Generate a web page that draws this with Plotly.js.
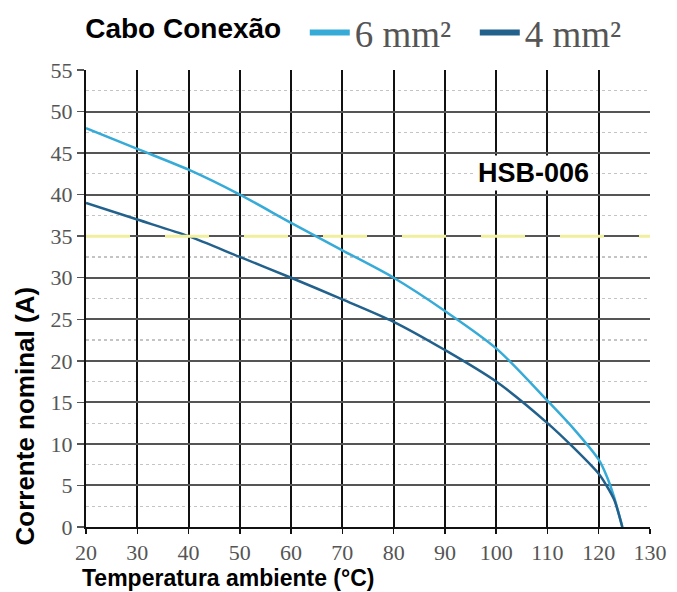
<!DOCTYPE html>
<html>
<head>
<meta charset="utf-8">
<script src="https://cdn.plot.ly/plotly-3.0.1.min.js"></script>
<style>html,body{margin:0;padding:0;background:#fff;}#chart{width:677px;height:592px;}</style>
</head>
<body>
<div id="chart"></div>
<script>
// Data
const temp6 = [20, 30, 40, 50, 60, 70, 80, 90, 100, 110, 115, 120, 121.5, 123, 124.6];
const amps6 = [48, 45.5, 43, 40, 36.6, 33.3, 30, 26, 21.5, 15.2, 11.9, 8.1, 6.2, 3.6, 0];
const temp4 = [20, 30, 40, 50, 60, 70, 80, 90, 100, 110, 115, 120, 121.5, 123, 124.6];
const amps4 = [39, 37, 35, 32.5, 30, 27.4, 24.7, 21.3, 17.5, 12.5, 9.6, 6.4, 5.0, 3.3, 0];
const seriesNames = ["6 mm²", "4 mm²"];
const seriesColors = ["#36abd8", "#22618c"];
const legendTitle = "Cabo Conexão";
const modelLabel = "HSB-006";
const threshold = 35;
const xTitle = "Temperatura ambiente (°C)";
const yTitle = "Corrente nominal (A)";

const curves = [[temp6, amps6], [temp4, amps4]];
const traces = [];
curves.forEach((c, i) => {
  traces.push({x: c[0], y: c[1], name: seriesNames[i], legendgroup: "g" + i, showlegend: false,
    mode: "lines", type: "scatter",
    line: {color: seriesColors[i], width: 2.5, shape: "spline", smoothing: 0.8}});
});
// legend entries (thicker swatches as in the reference)
curves.forEach((c, i) => {
  traces.push({x: [null], y: [null], name: seriesNames[i], legendgroup: "g" + i, showlegend: true,
    mode: "lines", type: "scatter", line: {color: seriesColors[i], width: 6}});
});

const serif = "Liberation Serif, Times New Roman, serif";
const sans = "Liberation Sans, Arial, sans-serif";

const layout = {
  width: 677, height: 592,
  margin: {l: 86, r: 27, t: 70, b: 65, autoexpand: false},
  paper_bgcolor: "#fff", plot_bgcolor: "#fff",
  showlegend: true,
  legend: {
    orientation: "h", x: -0.005, xanchor: "left", y: 1.081, yanchor: "middle",
    title: {text: "<b>" + legendTitle + "\u00a0\u00a0</b>", font: {family: sans, size: 28, color: "#000"}, side: "left"},
    font: {family: serif, size: 37, color: "#555"},
    itemwidth: 40, entrywidth: 115, entrywidthmode: "pixels",
    tracegroupgap: 0, bgcolor: "rgba(0,0,0,0)"
  },
  xaxis: {
    range: [20, 130], dtick: 10, tick0: 20,
    showgrid: true, gridcolor: "#111", gridwidth: 2,
    showline: true, linecolor: "#111", linewidth: 2,
    ticks: "outside", ticklen: 5, tickcolor: "#111", tickwidth: 1.5,
    tickfont: {family: serif, size: 22, color: "#555"},
    zeroline: false, fixedrange: true
  },
  yaxis: {
    range: [0, 55], dtick: 5, tick0: 0,
    showgrid: true, gridcolor: "#555", gridwidth: 2,
    showline: true, linecolor: "#111", linewidth: 2,
    ticks: "outside", ticklen: 7, tickcolor: "#555", tickwidth: 1.5,
    tickfont: {family: serif, size: 22, color: "#555"},
    zeroline: false, fixedrange: true,
    minor: {dtick: 2.5, showgrid: true, gridcolor: "#c4c4c4", griddash: "dot", gridwidth: 1.2}
  },
  shapes: [
    {type: "line", xref: "paper", x0: 0, x1: 1, yref: "y", y0: threshold, y1: threshold,
     line: {color: "#efef9e", width: 3, dash: "44px,35px"}, layer: "above"}
  ],
  annotations: [
    {text: "<b>" + modelLabel + "</b>", xref: "x", yref: "y", x: 107.2, y: 42.6,
     showarrow: false, font: {family: sans, size: 27, color: "#000"},
     bgcolor: "#fff", borderpad: 2},
    {text: "<b>" + xTitle + "</b>", xref: "paper", yref: "paper", x: -0.011, y: -0.111,
     xanchor: "left", yanchor: "middle", showarrow: false,
     font: {family: sans, size: 23, color: "#000"}},
    {text: "<b>" + yTitle + "</b>", xref: "paper", yref: "paper", x: -0.108, y: 0.242,
     xanchor: "center", yanchor: "middle", textangle: -90, showarrow: false,
     font: {family: sans, size: 26, color: "#000"}}
  ]
};

Plotly.newPlot("chart", traces, layout, {displayModeBar: false, staticPlot: true});
</script>
</body>
</html>
